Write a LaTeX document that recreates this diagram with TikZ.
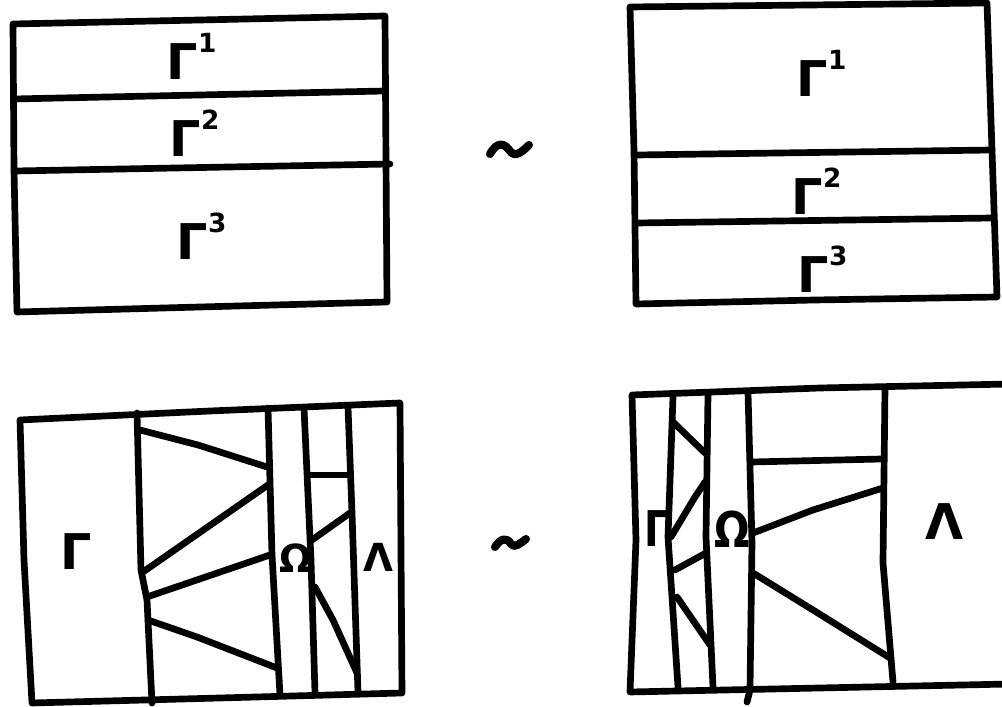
\documentclass[tikz,border=0pt]{standalone}
\usepackage{fontspec}
\setmainfont{DejaVu Sans}
\tikzset{
  ink/.style={line width=1.9pt, line join=round, line cap=round},
  lbl/.style={inner sep=0pt, anchor=base west, font=\fontsize{14}{16}\selectfont\bfseries},
  small lbl/.style={lbl, font=\fontsize{11}{13}\selectfont\bfseries},
}
\newcommand{\upidx}[1]{\raisebox{0.55em}{\fontsize{7.5}{9}\selectfont\bfseries #1}}
\begin{document}
\begin{tikzpicture}[x=0.01cm, y=-0.01cm]
\useasboundingbox (0,0) rectangle (1002,707);
\clip (0,0) rectangle (1002,707);
\fill[white] (0,0) rectangle (1002,707);

% ---- upper left: three horizontal bands ----
\draw[ink] (13,24) -- (200,20) -- (385,16) -- (386,160) -- (387,302)
           -- (200,307) -- (17,312) -- (14,170) -- cycle;
\draw[ink] (14,99) -- (385,91);
\draw[ink] (15,171) -- (390,164);
\node[lbl] (g1a) at (166,80) {Γ\upidx{1}};
\node[lbl] (g2a) at (169,157) {Γ\upidx{2}};
\node[lbl] (g3a) at (176,260) {Γ\upidx{3}};

% ---- equivalence marks ----
\draw[ink, line width=2.3pt] (490,154) .. controls (498,140) and (505,144) .. (510,151)
      .. controls (515,158) and (522,152) .. (529,145);
\draw[ink, line width=2.3pt] (495,547) .. controls (501,538) and (507,537) .. (511,544)
      .. controls (514,549) and (521,543) .. (526,539);

% ---- upper right: three horizontal bands ----
\draw[ink] (630,7) -- (810,5) -- (987,3) -- (992,150) -- (997,297)
           -- (815,300) -- (636,304) -- (634,150) -- cycle;
\draw[ink] (637,155) -- (992,150);
\draw[ink] (637,223) -- (993,218);
\node[lbl] (g1b) at (796,97) {Γ\upidx{1}};
\node[lbl] (g2b) at (791,215) {Γ\upidx{2}};
\node[lbl] (g3b) at (797,293) {Γ\upidx{3}};

% ---- lower left: vertical strips ----
\draw[ink] (20,420) -- (210,411) -- (400,403) -- (401,550) -- (402,693)
           -- (220,698) -- (32,703) -- (24,560) -- cycle;
% strip boundaries
\draw[ink] (137,413) -- (141,570) -- (147,600) -- (152,703);
\draw[ink] (268,408) -- (272,555) -- (280,695);
\draw[ink] (304,408) -- (311,560) -- (315,693);
\draw[ink] (348,407) -- (352,513) -- (358,692);
% interior segments
\draw[ink] (140,430) -- (198,445) -- (267,467);
\draw[ink] (143,572) -- (268,485);
\draw[ink] (147,597) -- (270,555);
\draw[ink] (148,620) -- (197,637) -- (277,668);
\draw[ink] (310,475) -- (350,475);
\draw[ink] (312,540) -- (350,513);
\draw[ink] (315,587) -- (333,620) -- (357,673);
\node[lbl] (ga) at (60,570) {Γ};
\node[small lbl] (oa) at (279,573) {Ω};
\node[small lbl] (la) at (363,572) {Λ};

% ---- lower right: vertical strips ----
\draw[ink] (1010,384) -- (820,388) -- (632,395) -- (636,540) -- (630,692)
           -- (820,688) -- (1010,684);
\draw[ink] (673,397) -- (668,537) -- (678,687);
\draw[ink] (708,395) -- (706,537) -- (713,687);
\draw[ink] (748,392) -- (752,543) -- (750,690) -- (747,702);
\draw[ink] (885,388) -- (883,563) -- (893,682);
% interior segments
\draw[ink] (673,422) -- (705,453);
\draw[ink] (671,537) -- (695,497) -- (705,482);
\draw[ink] (675,570) -- (706,553);
\draw[ink] (677,597) -- (710,645);
\draw[ink] (752,462) -- (882,459);
\draw[ink] (753,533) -- (813,510) -- (883,488);
\draw[ink] (753,573) -- (813,610) -- (890,658);
\node[lbl, xscale=0.8] (gb) at (644,547) {Γ};
\node[lbl, xscale=0.85] (ob) at (714,548) {Ω};
\node[lbl] (lb) at (925,540) {Λ};
\end{tikzpicture}
\end{document}
